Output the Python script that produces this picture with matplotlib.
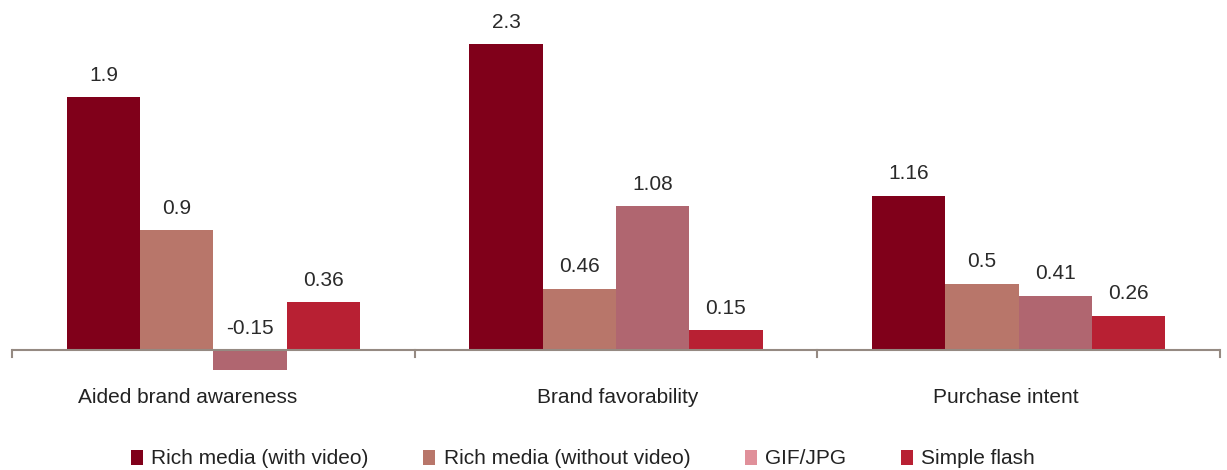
import matplotlib
matplotlib.use("Agg")
import matplotlib.pyplot as plt
import numpy as np
from matplotlib.patches import Patch

categories = ["Aided brand awareness", "Brand favorability", "Purchase intent"]
series = ["Rich media (with video)", "Rich media (without video)", "GIF/JPG", "Simple flash"]
rich_video = [1.9, 2.3, 1.16]
rich_no_video = [0.9, 0.46, 0.5]
gif_jpg = [-0.15, 1.08, 0.41]
simple_flash = [0.36, 0.15, 0.26]
values = [rich_video, rich_no_video, gif_jpg, simple_flash]

bar_colors = ["#80001a", "#b8766a", "#b06670", "#b82033"]
legend_colors = ["#80001a", "#b8766a", "#e0909a", "#b82033"]
label_shift = [-0.065, 0.005, -0.032]

plt.rcParams['font.family'] = ['Liberation Sans', 'DejaVu Sans']

fig = plt.figure(figsize=(12.27, 4.70), dpi=100)
ax = fig.add_axes([12/1227, 80/470, 1208/1227, 372.5/470])

n = len(series)
w = 0.182
x = np.arange(len(categories))
for i, (vals, c) in enumerate(zip(values, bar_colors)):
    pos = x + (i - (n - 1) / 2) * w
    ax.bar(pos, vals, width=w, color=c, zorder=2)
    for p, v in zip(pos, vals):
        ax.annotate(f"{v:g}", (p, max(v, 0)), xytext=(0, 9), textcoords="offset points",
                    ha="center", va="bottom", fontsize=15, color="#2a2a2a")

ax.set_xlim(-0.5, len(categories) - 0.5)
ax.set_ylim(-0.3, 2.5)
for s in ["top", "right", "left", "bottom"]:
    ax.spines[s].set_visible(False)
ax.axhline(0, color="#958a82", lw=1.5, zorder=3)
ax.set_yticks([])
ax.set_xticks([])
for b in np.arange(len(categories) + 1) - 0.5:
    ax.plot([b, b], [0, -0.055], color="#958a82", lw=1.5, clip_on=False, zorder=3)
for xi, cat, sh in zip(x, categories, label_shift):
    ax.text(xi + sh, -0.355, cat, ha="center", va="center", fontsize=15, color="#222222")

handles = [Patch(facecolor=c, edgecolor="none") for c in legend_colors]
fig.legend(handles, series, loc="center", bbox_to_anchor=(0.475, 11/470), ncol=4,
           frameon=False, fontsize=15, handlelength=0.6, handleheight=0.75, handletextpad=0.4,
           columnspacing=2.6, labelcolor="#222222")

fig.savefig("out.png", dpi=100)
